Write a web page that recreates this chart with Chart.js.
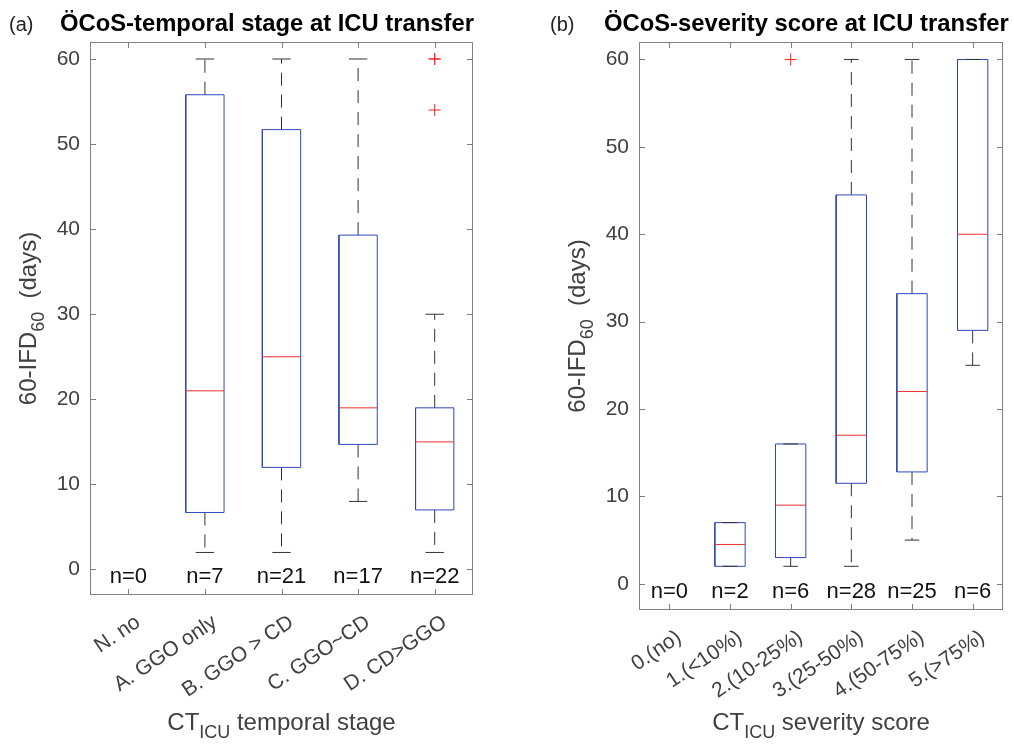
<!DOCTYPE html>
<html>
<head>
<meta charset="utf-8">
<script src="https://cdn.jsdelivr.net/npm/chart.js@4.4.1/dist/chart.umd.min.js"></script>
<style>
    html, body { margin: 0; padding: 0; background: #fff; }
    #wrap { position: relative; width: 1014px; height: 744px; }
    .panel { position: absolute; top: 0; width: 507px; height: 744px; }
</style>
</head>
<body>
<div id="wrap">
    <div class="panel" style="left:0"><canvas id="chartA" width="507" height="744"></canvas></div>
    <div class="panel" style="left:507px"><canvas id="chartB" width="507" height="744"></canvas></div>
</div>
<script>
/* global Chart */

// (a) temporal stage
const stageLabels = ['N. no', 'A. GGO only', 'B. GGO > CD', 'C. GGO~CD', 'D. CD>GGO'];
const stageCounts = [0, 7, 21, 17, 22];
const stageMin = [null, 2, 2, 8, 2];
const stageQ1 = [null, 6.7, 12, 14.7, 7];
const stageMedian = [null, 21, 25, 19, 15];
const stageQ3 = [null, 55.8, 51.7, 39.3, 19];
const stageMax = [null, 60, 60, 60, 30];
const stageOutliers = [[], [], [], [], [60, 60, 54]];

// (b) severity score
const severityLabels = ['0.(no)', '1.(<10%)', '2.(10-25%)', '3.(25-50%)', '4.(50-75%)', '5.(>75%)'];
const severityCounts = [0, 2, 6, 28, 25, 6];
const severityMin = [null, 2, 2, 2, 5, 25];
const severityQ1 = [null, 2, 3, 11.5, 12.8, 29];
const severityMedian = [null, 4.5, 9, 17, 22, 40];
const severityQ3 = [null, 7, 16, 44.5, 33.2, 60];
const severityMax = [null, 7, 16, 60, 60, 60];
const severityOutliers = [[], [], [60], [], [], []];

const yTicks = [0, 10, 20, 30, 40, 50, 60];

const FONT = "'Liberation Sans', Arial, Helvetica, sans-serif";
const BOX_HALF = 0.25;
const CAP_HALF = 0.12;

/**
 * Build the line/scatter datasets that make up a box plot
 */
const buildBoxDatasets = (mins, q1s, medians, q3s, maxs, outliers) => {
    'use strict';

    const box = [];
    const med = [];
    const whisk = [];
    const caps = [];
    const outl = [];

    q1s.forEach((q1, i) => {
        outliers[i].forEach(v => outl.push({ x: i, y: v }));
        if (q1 === null) {
            return;
        }
        const l = i - BOX_HALF;
        const r = i + BOX_HALF;
        box.push({ x: l, y: q1 }, { x: r, y: q1 }, { x: r, y: q3s[i] }, { x: l, y: q3s[i] }, { x: l, y: q1 }, { x: i, y: null });
        med.push({ x: l, y: medians[i] }, { x: r, y: medians[i] }, { x: i, y: null });
        whisk.push({ x: i, y: q3s[i] }, { x: i, y: maxs[i] }, { x: i, y: null });
        whisk.push({ x: i, y: q1 }, { x: i, y: mins[i] }, { x: i, y: null });
        caps.push({ x: i - CAP_HALF, y: maxs[i] }, { x: i + CAP_HALF, y: maxs[i] }, { x: i, y: null });
        caps.push({ x: i - CAP_HALF, y: mins[i] }, { x: i + CAP_HALF, y: mins[i] }, { x: i, y: null });
    });

    const line = (data, color, dash, order) => ({
        data: data,
        showLine: true,
        spanGaps: false,
        borderColor: color,
        borderWidth: 1,
        borderDash: dash,
        borderJoinStyle: 'miter',
        pointRadius: 0,
        tension: 0,
        order: order
    });

    return [
        line(box, '#2f47bd', [], 4),
        line(whisk, '#333333', [13, 9], 5),
        line(caps, '#333333', [], 2),
        line(med, '#f03030', [], 3),
        {
            data: outl,
            showLine: false,
            pointStyle: 'cross',
            pointRadius: 6,
            pointBorderColor: '#ff2020',
            pointBorderWidth: 1,
            order: 1
        }
    ];
};

/**
 * Draw text with a subscript part: parts = [main, sub, rest]
 */
const drawSubText = (ctx, parts, cx, cy, size, subSize) => {
    'use strict';

    ctx.font = `${size}px ${FONT}`;
    const w0 = ctx.measureText(parts[0]).width;
    const w2 = ctx.measureText(parts[2]).width;
    ctx.font = `${subSize}px ${FONT}`;
    const w1 = ctx.measureText(parts[1]).width;
    let x = cx - (w0 + w1 + w2) / 2;
    ctx.textAlign = 'left';
    ctx.textBaseline = 'alphabetic';
    ctx.font = `${size}px ${FONT}`;
    ctx.fillText(parts[0], x, cy);
    x += w0;
    ctx.font = `${subSize}px ${FONT}`;
    ctx.fillText(parts[1], x, cy + size * 0.32);
    x += w1;
    ctx.font = `${size}px ${FONT}`;
    ctx.fillText(parts[2], x, cy);
};

const boxFramePlugin = {
    id: 'boxFrame',
    afterDraw(chart, args, opts) {
        'use strict';

        const { ctx, chartArea: a, scales: { x, y } } = chart;
        ctx.save();

        // frame
        ctx.strokeStyle = '#808080';
        ctx.lineWidth = 1;
        ctx.setLineDash([]);
        ctx.strokeRect(a.left + 0.5, a.top + 0.5, a.right - a.left - 1, a.bottom - a.top - 1);

        // inward tick marks
        const tl = 6;
        ctx.beginPath();
        yTicks.forEach(v => {
            const py = Math.round(y.getPixelForValue(v)) + 0.5;
            ctx.moveTo(a.left, py);
            ctx.lineTo(a.left + tl, py);
            ctx.moveTo(a.right, py);
            ctx.lineTo(a.right - tl, py);
        });
        opts.categories.forEach((c, i) => {
            const px = Math.round(x.getPixelForValue(i)) + 0.5;
            ctx.moveTo(px, a.bottom);
            ctx.lineTo(px, a.bottom - tl);
            ctx.moveTo(px, a.top);
            ctx.lineTo(px, a.top + tl);
        });
        ctx.stroke();

        // n= labels
        ctx.fillStyle = '#111';
        ctx.font = `22px ${FONT}`;
        ctx.textAlign = 'center';
        ctx.textBaseline = 'middle';
        opts.counts.forEach((n, i) => {
            ctx.fillText(`n=${n}`, x.getPixelForValue(i), y.getPixelForValue(opts.countLevel));
        });

        // panel letter and title
        ctx.fillStyle = '#222';
        ctx.textAlign = 'left';
        ctx.textBaseline = 'alphabetic';
        ctx.font = `20px ${FONT}`;
        ctx.fillText(opts.letter, opts.letterX, 31);
        ctx.fillStyle = '#000';
        ctx.font = `bold 23.8px ${FONT}`;
        ctx.fillText(opts.title, opts.titleX, 31);

        // axis titles
        ctx.fillStyle = '#404040';
        drawSubText(ctx, opts.xTitle, (a.left + a.right) / 2, 730, 24, 18);
        ctx.translate(opts.yTitleX, (a.top + a.bottom) / 2);
        ctx.rotate(-Math.PI / 2);
        drawSubText(ctx, opts.yTitle, 0, 0, 24, 18);

        ctx.restore();
    }
};

const makeChart = (canvasId, cfg) => {
    'use strict';

    return new Chart(document.getElementById(canvasId), {
        type: 'scatter',
        data: {
            datasets: buildBoxDatasets(cfg.mins, cfg.q1s, cfg.medians, cfg.q3s, cfg.maxs, cfg.outliers)
        },
        options: {
            responsive: false,
            animation: false,
            layout: { padding: { left: 0, right: cfg.padRight, top: 42, bottom: 0 } },
            plugins: {
                legend: { display: false },
                tooltip: { enabled: false },
                boxFrame: {
                    categories: cfg.categories,
                    counts: cfg.counts,
                    countLevel: -0.9,
                    letter: cfg.letter,
                    letterX: cfg.letterX,
                    title: cfg.title,
                    titleX: cfg.titleX,
                    xTitle: cfg.xTitle,
                    yTitle: ['60-IFD', '60', '  (days)'],
                    yTitleX: cfg.yTitleX
                }
            },
            scales: {
                x: {
                    type: 'linear',
                    min: -0.5,
                    max: cfg.categories.length - 0.5,
                    grid: { display: false, drawTicks: false, tickLength: 0 },
                    border: { display: false },
                    afterBuildTicks: (scale) => {
                        scale.ticks = cfg.categories.map((c, i) => ({ value: i }));
                    },
                    afterFit: (scale) => {
                        scale.height = cfg.xHeight;
                    },
                    ticks: {
                        autoSkip: false,
                        minRotation: 34,
                        maxRotation: 34,
                        padding: 15,
                        labelOffset: 10,
                        color: '#404040',
                        font: { family: FONT, size: 21 },
                        callback: (v) => cfg.categories[v]
                    }
                },
                y: {
                    min: -3,
                    max: 62,
                    grid: { display: false, drawTicks: false, tickLength: 0 },
                    border: { display: false },
                    afterBuildTicks: (scale) => {
                        scale.ticks = yTicks.map(v => ({ value: v }));
                    },
                    afterFit: (scale) => {
                        scale.width = cfg.yWidth;
                    },
                    ticks: {
                        padding: 10,
                        color: '#404040',
                        font: { family: FONT, size: 21 }
                    }
                }
            }
        },
        plugins: [boxFramePlugin]
    });
};

makeChart('chartA', {
    categories: stageLabels,
    counts: stageCounts,
    mins: stageMin,
    q1s: stageQ1,
    medians: stageMedian,
    q3s: stageQ3,
    maxs: stageMax,
    outliers: stageOutliers,
    padRight: 34,
    yWidth: 90,
    xHeight: 149,
    letter: '(a)',
    letterX: 9,
    title: 'ÖCoS-temporal stage at ICU transfer',
    titleX: 60,
    xTitle: ['CT', 'ICU', ' temporal stage'],
    yTitleX: 36
});

makeChart('chartB', {
    categories: severityLabels,
    counts: severityCounts,
    mins: severityMin,
    q1s: severityQ1,
    medians: severityMedian,
    q3s: severityQ3,
    maxs: severityMax,
    outliers: severityOutliers,
    padRight: 11,
    yWidth: 132,
    xHeight: 134,
    letter: '(b)',
    letterX: 43,
    title: 'ÖCoS-severity score at ICU transfer',
    titleX: 97,
    xTitle: ['CT', 'ICU', ' severity score'],
    yTitleX: 78
});
</script>
</body>
</html>
